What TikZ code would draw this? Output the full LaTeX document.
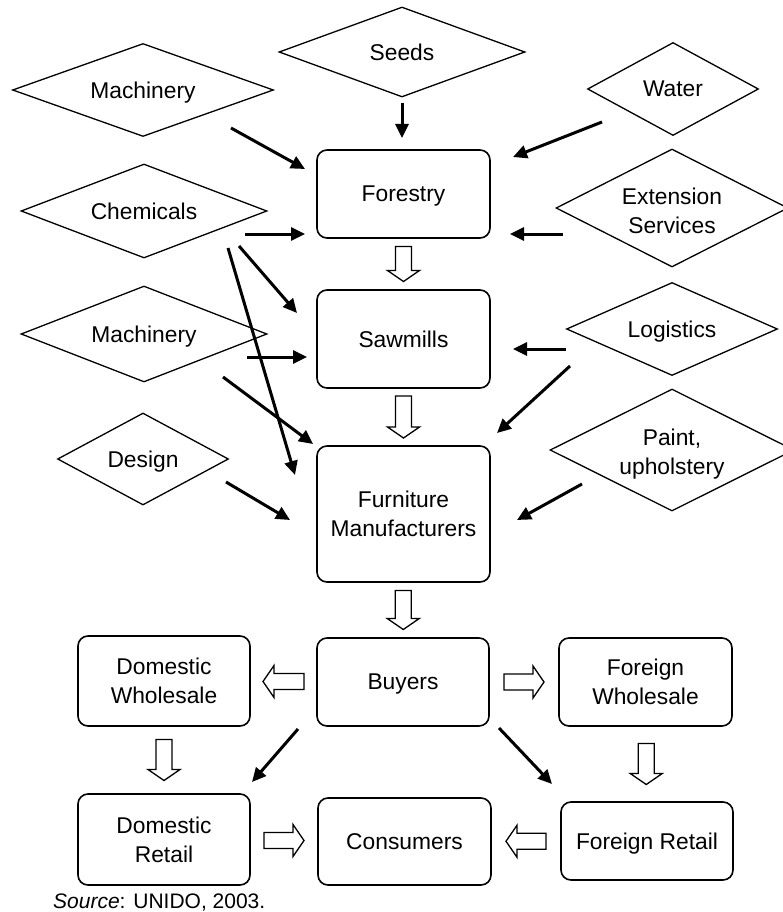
\documentclass[tikz,border=0pt]{standalone}
\usepackage{fontspec}
\setmainfont{Liberation Sans}
\usetikzlibrary{shapes.geometric,arrows.meta,calc}
\tikzset{
  txt/.style={font=\fontsize{22.8}{29}\selectfont, align=center, inner sep=0pt},
  one/.style={text depth=0pt},
  dia/.style={diamond, draw, line width=1.3pt, inner sep=0pt},
  box/.style={rectangle, draw, line width=1.6pt, rounded corners=10pt, font=\fontsize{22.8}{29}\selectfont, align=center},
  thin/.style={line width=3pt, -{Triangle[length=14pt,width=13pt]}},
  blkarrow/.style={draw, line width=1.3pt, fill=white, line join=miter}
}
\newcommand\blockarrow[3]{%
  \begin{scope}[shift={#1},rotate=#2]
    \draw[blkarrow] (-#3/2,-8) -- (#3/2-11,-8) -- (#3/2-11,-16) -- (#3/2,0) -- (#3/2-11,16) -- (#3/2-11,8) -- (-#3/2,8) -- cycle;
  \end{scope}}
\begin{document}
\begin{tikzpicture}[x=1pt,y=-1pt]
\useasboundingbox (0,0) rectangle (782,912);
% diamonds
\node[dia, minimum width=246, minimum height=90] (seeds) at (402,52) {};
\node[txt,one] at (seeds) {Seeds};
\node[dia, minimum width=261, minimum height=93] (mach1) at (143,90) {};
\node[txt,one] at (mach1) {Machinery};
\node[dia, minimum width=171, minimum height=93] (water) at (673,89) {};
\node[txt,one] at (water) {Water};
\node[dia, minimum width=246, minimum height=94] (chem) at (144,211) {};
\node[txt,one] at (chem) {Chemicals};
\node[dia, minimum width=232, minimum height=118] (ext) at (672,208) {};
\node[txt] at ([yshift=-3pt]ext.center) {Extension\\Services};
\node[dia, minimum width=246, minimum height=96] (mach2) at (144,334) {};
\node[txt,one] at (mach2) {Machinery};
\node[dia, minimum width=211, minimum height=93] (log) at (672,329) {};
\node[txt,one] at (log) {Logistics};
\node[dia, minimum width=171, minimum height=92] (design) at (143,459) {};
\node[txt,one] at (design) {Design};
\node[dia, minimum width=244, minimum height=122] (paint) at (672,450) {};
\node[txt] at ([yshift=-4pt]paint.center) {Paint,\\upholstery};
% boxes
\node[box, one, minimum width=173, minimum height=88] (forestry) at (403.5,194) {Forestry};
\node[box, one, minimum width=173, minimum height=98] (sawmills) at (403.5,339) {Sawmills};
\node[box, minimum width=173, minimum height=136] (furniture) at (403.5,514) {Furniture\\Manufacturers};
\node[box, one, minimum width=172, minimum height=88] (buyers) at (403,682) {Buyers};
\node[box, minimum width=172, minimum height=90] (domwh) at (164,681) {Domestic\\Wholesale};
\node[box, minimum width=173, minimum height=88] (forwh) at (645.5,682) {Foreign\\Wholesale};
\node[box, minimum width=172, minimum height=91] (domret) at (164,839.5) {Domestic\\Retail};
\node[box, one, minimum width=173, minimum height=87] (cons) at (404.5,841.5) {Consumers};
\node[box, one, minimum width=172, minimum height=78] (forret) at (647,841) {Foreign Retail};
% block arrows
\blockarrow{($(forestry.south)!0.5!(sawmills.north)$)}{-90}{35}
\blockarrow{($(sawmills.south)!0.5!(furniture.north)$)}{-90}{42}
\blockarrow{($(furniture.south)!0.5!(buyers.north)$)}{-90}{39}
\blockarrow{($(buyers.west)!0.5!(domwh.east)$)}{180}{41}
\blockarrow{($(buyers.east)!0.5!(forwh.west)$)}{0}{40}
\blockarrow{($(domwh.south)!0.5!(domret.north)$)}{-90}{41}
\blockarrow{($(forwh.south)!0.5!(forret.north)$)}{-90}{41}
\blockarrow{($(domret.east)!0.5!(cons.west)$)}{0}{40}
\blockarrow{($(forret.west)!0.5!(cons.east)$)}{180}{40}
% thin arrow endpoints
\coordinate (s1) at (402,103);  \coordinate (e1) at (402,138);
\coordinate (s2) at (231,128);  \coordinate (e2) at (305,169);
\coordinate (s3) at (602,122);  \coordinate (e3) at (513,157);
\coordinate (s4) at (245,234);  \coordinate (e4) at (305,234);
\coordinate (s5) at (563,234);  \coordinate (e5) at (510,234);
\coordinate (s6) at (239,246);  \coordinate (e6) at (297,313);
\coordinate (s7) at (228,248);  \coordinate (e7) at (295,475);
\coordinate (s8) at (247,357);  \coordinate (e8) at (307,357);
\coordinate (s9) at (223,377);  \coordinate (e9) at (313,444);
\coordinate (s10) at (566,349); \coordinate (e10) at (513,349);
\coordinate (s11) at (570,366); \coordinate (e11) at (497,433);
\coordinate (s12) at (226,482); \coordinate (e12) at (290,520);
\coordinate (s13) at (582,484); \coordinate (e13) at (517,520);
\coordinate (s14) at (298,729); \coordinate (e14) at (252,782);
\coordinate (s15) at (499,728); \coordinate (e15) at (552,784);
\foreach \i in {1,...,15} { \draw[thin] (s\i) -- (e\i); }
% source
\node[anchor=west, inner sep=0pt, font=\fontsize{21}{25}\selectfont] (src) at (53,902) {\textit{Source}: UNIDO, 2003.};
\end{tikzpicture}
\end{document}
